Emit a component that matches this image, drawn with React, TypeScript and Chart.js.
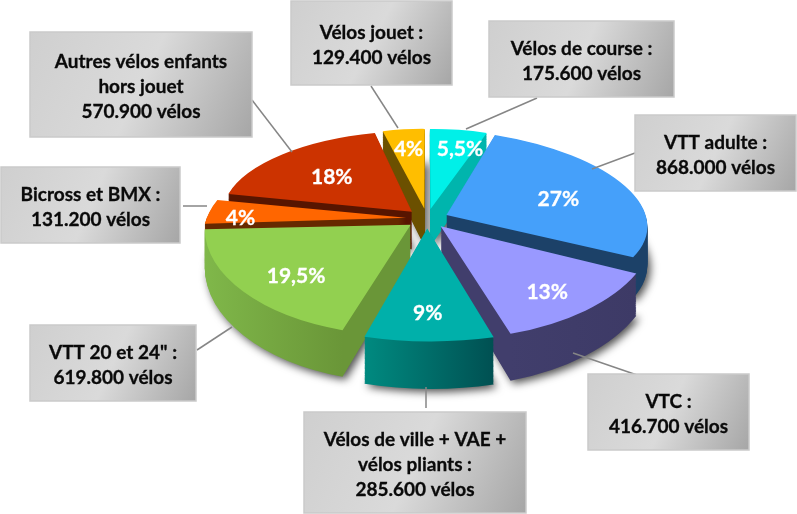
import React, { useEffect, useRef } from "react";
import { Chart, registerables } from "chart.js";

Chart.register(...registerables);

// ---- data ----
const categories = [
  ["Vélos de course :"],
  ["VTT adulte :"],
  ["VTC :"],
  ["Vélos de ville + VAE +", "vélos pliants :"],
  ['VTT 20 et 24" :'],
  ["Bicross et BMX :"],
  ["Autres vélos enfants", "hors jouet"],
  ["Vélos jouet :"],
];
const units = [175600, 868000, 416700, 285600, 619800, 131200, 570900, 129400];
const percentLabels = ["5,5%", "27%", "13%", "9%", "19,5%", "4%", "18%", "4%"];

// ---- styles ----
const topColors = ["#00F0E8", "#45A0FA", "#9999FF", "#00B0AA", "#92D050", "#FF6600", "#CC3300", "#FFBE00"];
const wallColors = [
  ["#00B5AD", "#00B5AD"],
  ["#1C4168", "#1C4168"],
  ["#413E6C", "#3D3A66"],
  ["#008A80", "#005052"],
  ["#80B84A", "#6A9638"],
  ["#662900", "#662900"],
  ["#571500", "#571500"],
  ["#6B5000", "#6B5000"],
];

// ---- layout ----
const W = 797;
const H = 514;
const CX = 427;
const CY = 218.5;
const TILT = 0.47;
const PERSP_Y = 1400;
const PERSP_Z = 1100;
const PERSP_X_BACK = 1100;
const PERSP_X_FRONT = 1500;
const FRONT_SHEAR = 0.02;
const EXPLODE = 21;
const DEPTH = 38;
const FONT = '"Lato", "Open Sans", sans-serif';
const labelPlace = [
  { f: 0.73, dx: 8, dy: 0 },
  { f: 0.635, dx: 0, dy: 5 },
  { f: 0.72, dx: 4, dy: 7 },
  { f: 0.775, dx: -1, dy: 0 },
  { f: 0.66, dx: -5, dy: 10 },
  { f: 0.835, dx: -1, dy: 5 },
  { f: 0.575, dx: -4, dy: 0 },
  { f: 0.73, dx: 0, dy: 0 },
];
const boxes = [
  { x: 489, y: 21, w: 185, h: 76 },
  { x: 635, y: 115, w: 161, h: 76 },
  { x: 588, y: 374, w: 161, h: 76 },
  { x: 304, y: 412, w: 222, h: 101 },
  { x: 30, y: 325, w: 166, h: 76 },
  { x: 1, y: 167, w: 179, h: 76 },
  { x: 30, y: 32, w: 222, h: 105 },
  { x: 291, y: 1, w: 161, h: 84 },
];
const leaders = [
  [537, 98, 466, 129],
  [635, 153, 592, 169],
  [637, 375, 573, 353],
  [426, 408, 426, 387],
  [197, 350, 232, 327],
  [183, 206, 207, 206],
  [252, 100, 292, 152],
  [371, 86, 398, 128],
];

const project = (wx: number, wy: number, z: number) => {
  const sx = 1 / (1 - wy / (wy > 0 ? PERSP_X_FRONT : PERSP_X_BACK));
  const sy = 1 / (1 - wy / PERSP_Y);
  const sz = 1 / (1 - wy / PERSP_Z);
  return [CX + wx * sx + FRONT_SHEAR * Math.max(wy, 0), CY + wy * TILT * sy + z * sz];
};

const fmt = (v: number) => String(v).replace(/\B(?=(\d{3})+$)/g, ".") + " vélos";

const drawSlice = (ctx: any, el: any, z: number, color: any) => {
  const R = el.outerRadius;
  const mid = (el.startAngle + el.endAngle) / 2;
  const ox = Math.cos(mid) * EXPLODE;
  const oy = Math.sin(mid) * EXPLODE;
  const p0 = project(ox, oy, z);
  // least-squares linear map from the flat arc to its perspective image
  let suu = 0, suv = 0, svv = 0, sux = 0, svx = 0, suy = 0, svy = 0;
  const N = 12;
  for (let j = 0; j <= N; j++) {
    const t = el.startAngle + ((el.endAngle - el.startAngle) * j) / N;
    const w = j === 0 || j === N ? 4 : 1;
    const u = R * Math.cos(t);
    const v = R * Math.sin(t);
    const p = project(ox + u, oy + v, z);
    const X = p[0] - p0[0];
    const Y = p[1] - p0[1];
    suu += w * u * u; suv += w * u * v; svv += w * v * v;
    sux += w * u * X; svx += w * v * X; suy += w * u * Y; svy += w * v * Y;
  }
  const det = suu * svv - suv * suv;
  const a = (sux * svv - svx * suv) / det;
  const c = (svx * suu - sux * suv) / det;
  const b = (suy * svv - svy * suv) / det;
  const d = (svy * suu - suy * suv) / det;
  ctx.save();
  ctx.transform(a, b, c, d, p0[0], p0[1]);
  ctx.translate(-el.x, -el.y);
  const saved = el.options;
  el.options = { ...saved, backgroundColor: color };
  el.draw(ctx);
  el.options = saved;
  ctx.restore();
};

const pie3d = {
  id: "pie3d",
  beforeDatasetDraw(chart: any, args: any) {
    const ctx = chart.ctx;
    const arcs: any[] = args.meta.data;
    const order = arcs
      .map((el, i) => ({ el, i, my: Math.sin((el.startAngle + el.endAngle) / 2) }))
      .sort((p, q) => p.my - q.my);
    for (const { el, i } of order) {
      const R = el.outerRadius;
      const xs = [el.startAngle, el.endAngle, (el.startAngle + el.endAngle) / 2].map((t) => el.x + R * Math.cos(t));
      const grad = ctx.createLinearGradient(Math.min(...xs), 0, Math.max(...xs), 0);
      grad.addColorStop(0, wallColors[i][0]);
      grad.addColorStop(1, wallColors[i][1]);
      ctx.save();
      ctx.shadowColor = "rgba(0,0,0,0.7)";
      ctx.shadowBlur = 8;
      ctx.shadowOffsetX = 3;
      ctx.shadowOffsetY = 3;
      drawSlice(ctx, el, DEPTH, grad);
      ctx.restore();
      for (let z = DEPTH - 1; z >= 1; z--) drawSlice(ctx, el, z, grad);
      drawSlice(ctx, el, 0, topColors[i]);
    }
    // percentage labels
    ctx.save();
    ctx.fillStyle = "#FFFFFF";
    ctx.strokeStyle = "#FFFFFF";
    ctx.lineWidth = 0.3;
    ctx.font = `700 21px ${FONT}`;
    ctx.textAlign = "center";
    ctx.textBaseline = "middle";
    arcs.forEach((el, i) => {
      const mid = (el.startAngle + el.endAngle) / 2;
      const r = EXPLODE + labelPlace[i].f * el.outerRadius;
      const p = project(r * Math.cos(mid), r * Math.sin(mid), 0);
      const x = p[0] + labelPlace[i].dx;
      const y = p[1] + labelPlace[i].dy;
      ctx.fillText(percentLabels[i], x, y);
      ctx.strokeText(percentLabels[i], x, y);
    });
    ctx.restore();
    return false;
  },
  afterDraw(chart: any) {
    const ctx = chart.ctx;
    ctx.save();
    ctx.strokeStyle = "#868686";
    ctx.lineWidth = 1.5;
    leaders.forEach(([x1, y1, x2, y2]) => {
      ctx.beginPath();
      ctx.moveTo(x1, y1);
      ctx.lineTo(x2, y2);
      ctx.stroke();
    });
    boxes.forEach((b, i) => {
      const g = ctx.createLinearGradient(b.x, b.y, b.x + b.w, b.y + b.h);
      g.addColorStop(0, "#CFCFCF");
      g.addColorStop(0.5, "#DADADA");
      g.addColorStop(1, "#A6A6A6");
      ctx.fillStyle = g;
      ctx.fillRect(b.x, b.y, b.w, b.h);
      ctx.strokeStyle = "#CACACA";
      ctx.lineWidth = 1.5;
      ctx.strokeRect(b.x, b.y, b.w, b.h);
      const lines = [...categories[i], fmt(units[i])];
      ctx.fillStyle = "#0A0A0A";
      ctx.strokeStyle = "#0A0A0A";
      ctx.lineWidth = 0.3;
      ctx.font = `700 19px ${FONT}`;
      ctx.textAlign = "center";
      ctx.textBaseline = "middle";
      const lh = 25;
      const top = b.y + b.h / 2 - (lh * (lines.length - 1)) / 2 + 2.5;
      lines.forEach((t, k) => {
        ctx.fillText(t, b.x + b.w / 2, top + k * lh);
        ctx.strokeText(t, b.x + b.w / 2, top + k * lh);
      });
    });
    ctx.restore();
  },
};

export default function App() {
  const ref = useRef<HTMLCanvasElement>(null);
  useEffect(() => {
    const chart = new Chart(ref.current as any, {
      type: "pie",
      data: {
        labels: categories.map((c) => c.join(" ")),
        datasets: [{ data: units, backgroundColor: topColors, borderWidth: 0 }],
      },
      options: {
        responsive: false,
        animation: false,
        devicePixelRatio: 1,
        layout: { padding: { top: 57, bottom: 57 } },
        events: [],
        plugins: { legend: { display: false }, tooltip: { enabled: false } },
      },
      plugins: [pie3d],
    } as any);
    return () => chart.destroy();
  }, []);
  return (
    <div style={{ position: "absolute", left: 0, top: 0, width: W, height: H, background: "#fff" }}>
      <canvas ref={ref} width={W} height={H} style={{ display: "block" }} />
    </div>
  );
}
